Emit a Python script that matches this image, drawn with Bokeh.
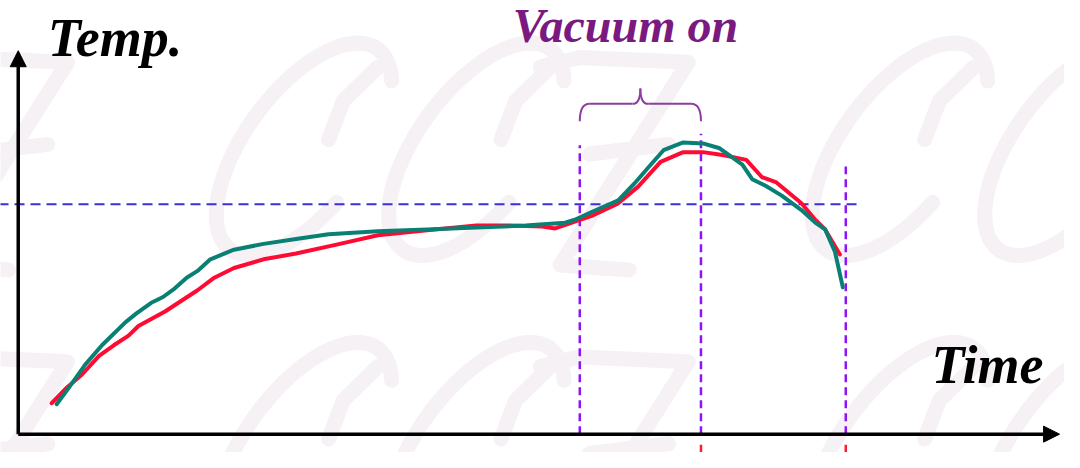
import numpy as np
from bokeh.plotting import figure
from bokeh.models import Range1d, Label, Arrow, NormalHead
from bokeh.embed import file_html
from bokeh.resources import INLINE

# ---- data (time, temperature in arbitrary units) ----
red_time = [3.4, 4.8, 6.5, 8.2, 9.7, 11.2, 12.2, 14.9, 18.2, 19.9, 21.9, 24.9, 28.2, 32.2, 36.5,
            41.5, 46.5, 49.9, 53.2, 54.5, 56.5, 58.2, 60.9, 62.9, 65.2, 67.5, 69.5, 71.5, 73.9,
            75.5, 76.9, 79.5, 80.9, 81.9, 83.4]
red_temp = [3.2, 4.7, 6.2, 8.1, 9.2, 10.2, 11.2, 12.7, 14.9, 16.2, 17.2, 18.1, 18.7, 19.6, 20.6,
            21.1, 21.6, 21.6, 21.5, 21.3, 22.0, 22.6, 23.9, 25.6, 28.2, 29.2, 29.2, 28.9, 28.4,
            26.6, 26.1, 23.9, 22.2, 21.2, 18.6]

teal_time = [3.9, 5.2, 6.8, 8.5, 10.9, 12.0, 13.5, 14.7, 15.9, 17.1, 18.2, 19.5, 21.9, 24.9, 28.2,
             31.5, 36.5, 41.5, 46.5, 51.5, 55.5, 56.5, 58.2, 60.9, 62.5, 64.2, 65.5, 67.5, 69.5,
             71.2, 73.5, 74.5, 75.9, 77.5, 79.5, 80.9, 81.9, 82.9, 83.7]
teal_temp = [3.1, 4.9, 7.2, 9.2, 11.6, 12.5, 13.6, 14.2, 15.1, 16.2, 16.9, 18.1, 19.1, 19.7, 20.2,
             20.7, 21.0, 21.2, 21.4, 21.6, 21.9, 22.2, 23.0, 24.2, 25.9, 27.9, 29.4, 30.2, 30.1,
             29.6, 27.9, 26.4, 25.7, 24.7, 23.2, 21.9, 21.2, 18.9, 15.2]

marker_times = [57.0, 69.3, 84.0]      # vacuum start, vacuum end, end of cycle
marker_tops = [29.9, 31.1, 27.7]
reference_temp = 23.8
reference_end = 85.5

title_text = "Vacuum on"
y_label = "Temp."
x_label = "Time"

# ---- figure ----
p = figure(width=1064, height=452, output_backend="svg", toolbar_location=None,
           x_range=Range1d(-1.8, 106.2), y_range=Range1d(-1.9, 44.9), min_border=0)
p.axis.visible = False
p.grid.visible = False
p.outline_line_color = None
p.background_fill_color = "white"
p.border_fill_color = "white"

# ---- faint decorative watermark (script C C Z pattern), drawn as strokes ----
wm_color = "#f5f1f5"
wm_xs, wm_ys = [], []
theta = np.radians(np.linspace(40, 330, 60))
for row_dT in [0.0, -31.0]:
    cy = 29.5 + row_dT
    for cx in [29.0, 46.5, 89.5, 107.0]:
        u = 7.0 * np.cos(theta)
        v = 11.0 * np.sin(theta)
        wm_xs.append(list(cx + u + 0.5 * v))
        wm_ys.append(list(cy + v))
        # inner hook of the script C
        wm_xs.append([cx + 7.5, cx + 4.0, cx + 2.5])
        wm_ys.append([cy + 8.5, cy + 5.0, cy + 1.0])
    for zx in [53.0, -10.0]:
        wm_xs.append([zx, zx + 4, zx + 15, zx + 2, zx + 9])
        wm_ys.append([cy + 8.5, cy + 9.5, cy + 9.0, cy - 12.0, cy - 12.5])
        wm_xs.append([zx + 5, zx + 13])
        wm_ys.append([cy - 0.5, cy + 0.5])
p.multi_line(wm_xs, wm_ys, line_color=wm_color, line_width=15, line_cap="round",
             line_join="round", level="underlay")

# reference horizontal dashed line
p.segment(x0=[-2.0], y0=[reference_temp], x1=[reference_end], y1=[reference_temp],
          line_color="#3b2fd9", line_width=2, line_dash="10 6")

# vertical purple dashed lines
p.segment(x0=marker_times, y0=[0] * 3, x1=marker_times, y1=marker_tops,
          line_color="#8f14f5", line_width=2.5, line_dash="8 5")
# small red marks below the axis
p.segment(x0=marker_times[1:], y0=[-1.9] * 2, x1=marker_times[1:], y1=[-1.1] * 2,
          line_color="#ff1a3a", line_width=2.5)

# curves
p.line(red_time, red_temp, line_color="#ff0a32", line_width=4, line_join="round", line_cap="round")
p.line(teal_time, teal_temp, line_color="#0a8075", line_width=4, line_join="round", line_cap="round")

# brace over vacuum period
s, e = marker_times[0], marker_times[1]
m = (s + e) / 2
yb, yh, yt = 32.4, 34.2, 35.8
brace_col = "#8c3d9e"
p.quadratic(x0=[s, m - 0.8, m, e - 1.0], y0=[yb, yh, yt, yh],
            x1=[s + 1.0, m, m + 0.8, e], y1=[yh, yt, yh, yb],
            cx=[s, m, m, e], cy=[yh, yh, yh, yh], line_color=brace_col, line_width=2)
p.segment(x0=[s + 1.0, m + 0.8], y0=[yh, yh], x1=[m - 0.8, e - 1.0], y1=[yh, yh],
          line_color=brace_col, line_width=2)

# axes as arrows
p.add_layout(Arrow(end=NormalHead(size=16, fill_color="black", line_color="black"),
                   x_start=0, y_start=0, x_end=0, y_end=39.7, line_width=3.5, line_color="black"))
p.add_layout(Arrow(end=NormalHead(size=16, fill_color="black", line_color="black"),
                   x_start=0, y_start=0, x_end=105.7, y_end=0, line_width=3.5, line_color="black"))

# texts
p.add_layout(Label(x=3.0, y=37.9, text=y_label, text_font="Liberation Serif",
                   text_font_style="bold italic", text_font_size="54px", text_color="black"))
p.add_layout(Label(x=92.7, y=4.1, text=x_label, text_font="Liberation Serif",
                   text_font_style="bold italic", text_font_size="54px", text_color="black"))
p.add_layout(Label(x=50.2, y=39.6, text=title_text, text_font="Liberation Serif",
                   text_font_style="bold italic", text_font_size="48px", text_color="#7a1a80"))

open("out.html", "w").write(file_html(p, INLINE))
